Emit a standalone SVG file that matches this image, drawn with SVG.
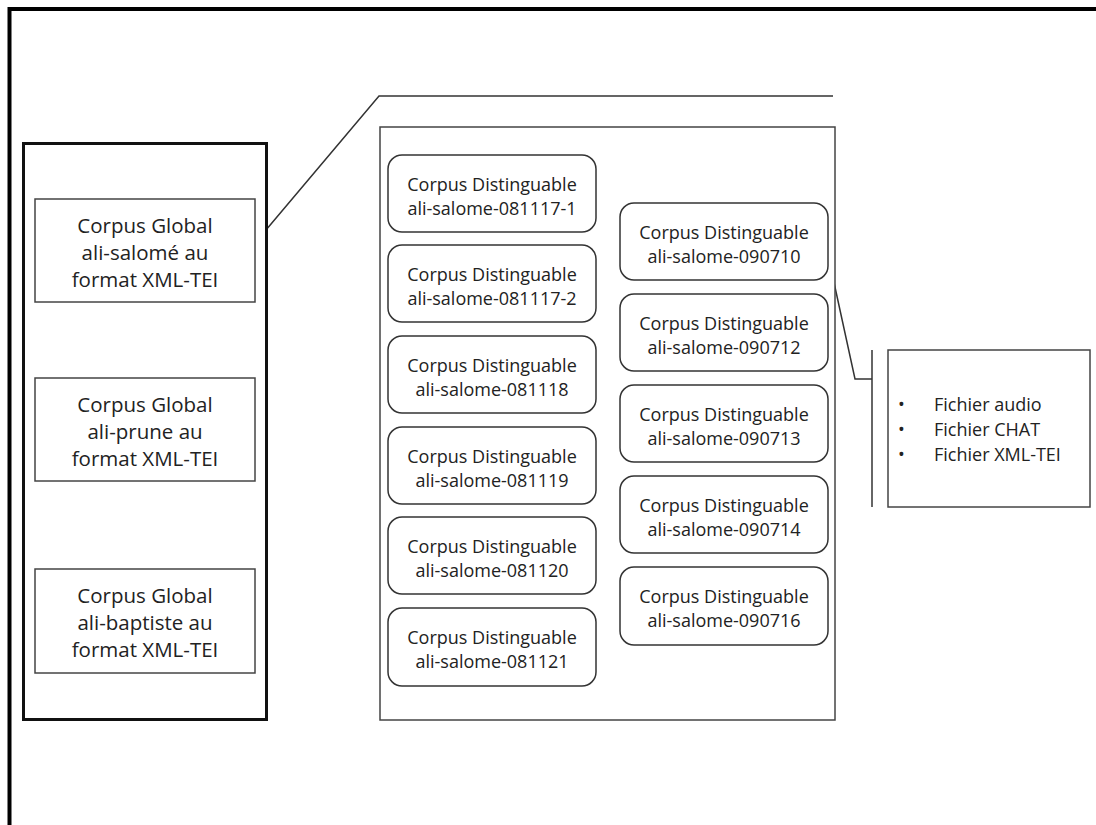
<svg xmlns="http://www.w3.org/2000/svg" width="1096" height="825" viewBox="0 0 1096 825">
<defs>
<style>
.frame{fill:none;stroke:#000;stroke-width:4}
.group{fill:#fff;stroke:#111;stroke-width:3}
.box{fill:#fff;stroke:#444;stroke-width:1.5}
.rbox{fill:#fff;stroke:#333;stroke-width:1.5}
.line{fill:none;stroke:#333;stroke-width:1.5}
.tg{font-family:"Open Sans","Liberation Sans",sans-serif;font-size:20.5px;fill:#222;text-anchor:middle}
.td{font-family:"Open Sans","Liberation Sans",sans-serif;font-size:18px;fill:#222;text-anchor:middle}
.tf{font-family:"Open Sans","Liberation Sans",sans-serif;font-size:18px;fill:#222}
</style>
</defs>
<rect width="1096" height="825" fill="#fff"/>
<rect class="frame" x="9.5" y="9" width="1100" height="830"/>

<g id="connectors">
<polyline class="line" points="255,243 379,96 833,96"/>
<polyline class="line" points="828,255 855,379 872,379"/>
<line class="line" x1="872" y1="350" x2="872" y2="507"/>
</g>

<g id="global-group"><rect class="group" x="23.5" y="143.5" width="243" height="576"/></g>

<g id="global-salome"><rect class="box" x="35" y="199" width="220" height="103"/>
<text class="tg" x="145" y="233">Corpus Global</text><text class="tg" x="145" y="260">ali-salomé au</text><text class="tg" x="145" y="287">format XML-TEI</text></g>
<g id="global-prune"><rect class="box" x="35" y="378" width="220" height="103"/>
<text class="tg" x="145" y="412">Corpus Global</text><text class="tg" x="145" y="439">ali-prune au</text><text class="tg" x="145" y="466">format XML-TEI</text></g>
<g id="global-baptiste"><rect class="box" x="35" y="569" width="220" height="104"/>
<text class="tg" x="145" y="603">Corpus Global</text><text class="tg" x="145" y="630">ali-baptiste au</text><text class="tg" x="145" y="657">format XML-TEI</text></g>

<g id="distinguable-group"><rect class="box" x="380" y="127" width="455" height="593"/></g>

<g id="d-081117-1"><rect class="rbox" x="388" y="155" width="208" height="77" rx="14"/>
<text class="td" x="492" y="191">Corpus Distinguable</text><text class="td" x="492" y="215">ali-salome-081117-1</text></g>
<g id="d-081117-2"><rect class="rbox" x="388" y="245" width="208" height="77" rx="14"/>
<text class="td" x="492" y="281">Corpus Distinguable</text><text class="td" x="492" y="305">ali-salome-081117-2</text></g>
<g id="d-081118"><rect class="rbox" x="388" y="336" width="208" height="77" rx="14"/>
<text class="td" x="492" y="372">Corpus Distinguable</text><text class="td" x="492" y="396">ali-salome-081118</text></g>
<g id="d-081119"><rect class="rbox" x="388" y="427" width="208" height="77" rx="14"/>
<text class="td" x="492" y="463">Corpus Distinguable</text><text class="td" x="492" y="487">ali-salome-081119</text></g>
<g id="d-081120"><rect class="rbox" x="388" y="517" width="208" height="77" rx="14"/>
<text class="td" x="492" y="553">Corpus Distinguable</text><text class="td" x="492" y="577">ali-salome-081120</text></g>
<g id="d-081121"><rect class="rbox" x="388" y="608" width="208" height="78" rx="14"/>
<text class="td" x="492" y="644">Corpus Distinguable</text><text class="td" x="492" y="668">ali-salome-081121</text></g>

<g id="d-090710"><rect class="rbox" x="620" y="203" width="208" height="77" rx="14"/>
<text class="td" x="724" y="239">Corpus Distinguable</text><text class="td" x="724" y="263">ali-salome-090710</text></g>
<g id="d-090712"><rect class="rbox" x="620" y="294" width="208" height="77" rx="14"/>
<text class="td" x="724" y="330">Corpus Distinguable</text><text class="td" x="724" y="354">ali-salome-090712</text></g>
<g id="d-090713"><rect class="rbox" x="620" y="385" width="208" height="77" rx="14"/>
<text class="td" x="724" y="421">Corpus Distinguable</text><text class="td" x="724" y="445">ali-salome-090713</text></g>
<g id="d-090714"><rect class="rbox" x="620" y="476" width="208" height="77" rx="14"/>
<text class="td" x="724" y="512">Corpus Distinguable</text><text class="td" x="724" y="536">ali-salome-090714</text></g>
<g id="d-090716"><rect class="rbox" x="620" y="567" width="208" height="78" rx="14"/>
<text class="td" x="724" y="603">Corpus Distinguable</text><text class="td" x="724" y="627">ali-salome-090716</text></g>

<g id="fichiers"><rect class="box" x="888" y="350" width="202" height="157"/>
<text class="tf" x="898" y="411">•</text><text class="tf" x="934" y="411">Fichier audio</text>
<text class="tf" x="898" y="436">•</text><text class="tf" x="934" y="436">Fichier CHAT</text>
<text class="tf" x="898" y="461">•</text><text class="tf" x="934" y="461">Fichier XML-TEI</text></g>
</svg>
